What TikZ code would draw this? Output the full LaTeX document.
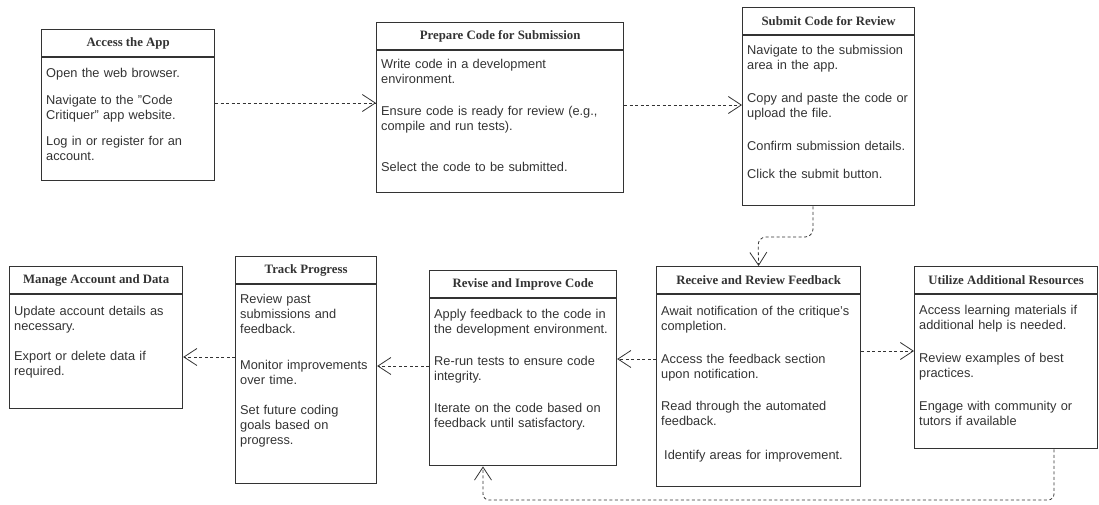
\documentclass[tikz,border=0pt]{standalone}
\usepackage{fontspec}
\setmainfont{Liberation Sans}
\newfontfamily\titlefont{Liberation Serif}
\usetikzlibrary{arrows.meta,positioning}
\definecolor{ink}{HTML}{333333}

\begin{document}
\begin{tikzpicture}[x=1pt,y=-1pt,
  head/.style={draw=ink, line width=1.2pt, anchor=north west, minimum height=27pt, inner sep=0pt,
    text=ink, font=\titlefont\bfseries\fontsize{12.8}{15}\selectfont},
  body/.style={draw=ink, line width=1.2pt, below=0pt of #1, inner sep=0pt},
  txt/.style={anchor=base west, inner sep=0pt, align=left, text=ink,
    font=\fontsize{12.8}{15}\selectfont},
  flow/.style={draw=ink, line width=0.8pt, dash pattern=on 3pt off 2.5pt,
    -{Straight Barb[length=13pt,width=17pt,line width=0.8pt]}}]
\useasboundingbox (0,0) rectangle (1099,504);

%ACCESS
\node[head, minimum width=173pt] (accesshead) at (41,29) {Access the App};
\node[body=accesshead, minimum width=173pt, minimum height=123pt] (accessbody) {};
\node[txt, text width=165pt] (accesstext) at ([shift={(5,20.5)}]accessbody.north west)
  {Open the web browser.\\[12pt]
   Navigate to the "Code\\ Critiquer" app website.\\[11pt]
   Log in or register for an\\ account.};

%PREPARE
\node[head, minimum width=247pt] (prephead) at (376,22) {Prepare Code for Submission};
\node[body=prephead, minimum width=247pt, minimum height=142pt] (prepbody) {};
\node[txt, text width=239pt] (preptext) at ([shift={(5,18.5)}]prepbody.north west)
  {Write code in a development\\ environment.\\[17pt]
   Ensure code is ready for review (e.g.,\\ compile and run tests).\\[26pt]
   Select the code to be submitted.};

%SUBMIT
\node[head, minimum width=172pt] (subhead) at (742,7) {Submit Code for Review};
\node[body=subhead, minimum width=172pt, minimum height=170pt] (subbody) {};
\node[txt, text width=164pt] (subtext) at ([shift={(5,19.5)}]subbody.north west)
  {Navigate to the submission\\ area in the app.\\[18pt]
   Copy and paste the code or\\ upload the file.\\[18pt]
   Confirm submission details.\\[13pt]
   Click the submit button.};

%MANAGE
\node[head, minimum width=173pt] (manhead) at (9,266) {Manage Account and Data};
\node[body=manhead, minimum width=173pt, minimum height=114pt] (manbody) {};
\node[txt, text width=165pt] (mantext) at ([shift={(5,21.5)}]manbody.north west)
  {Update account details as\\ necessary.\\[15pt]
   Export or delete data if\\ required.};

%TRACK
\node[head, minimum width=141pt] (trackhead) at (235,256) {Track Progress};
\node[body=trackhead, minimum width=141pt, minimum height=199pt] (trackbody) {};
\node[txt, text width=135pt] (tracktext) at ([shift={(5,19.5)}]trackbody.north west)
  {Review past\\ submissions and\\ feedback.\\[21pt]
   Monitor improvements\\ over time.\\[15pt]
   Set future coding\\ goals based on\\ progress.};

%REVISE
\node[head, minimum width=187pt] (revhead) at (429,270) {Revise and Improve Code};
\node[body=revhead, minimum width=187pt, minimum height=167pt] (revbody) {};
\node[txt, text width=181pt] (revtext) at ([shift={(5,20.5)}]revbody.north west)
  {Apply feedback to the code in\\ the development environment.\\[17pt]
   Re-run tests to ensure code\\ integrity.\\[17pt]
   Iterate on the code based on\\ feedback until satisfactory.};

%RECEIVE
\node[head, minimum width=204pt] (rechead) at (656,266) {Receive and Review Feedback};
\node[body=rechead, minimum width=204pt, minimum height=192pt] (recbody) {};
\node[txt, text width=198pt] (rectext) at ([shift={(5,21.5)}]recbody.north west)
  {Await notification of the critique's\\ completion.\\[18pt]
   Access the feedback section\\ upon notification.\\[17pt]
   Read through the automated\\ feedback.\\[19pt]
   \hspace*{3pt}Identify areas for improvement.};

%UTILIZE
\node[head, minimum width=183pt] (utilhead) at (914,266) {Utilize Additional Resources};
\node[body=utilhead, minimum width=183pt, minimum height=154pt] (utilbody) {};
\node[txt, text width=177pt] (utiltext) at ([shift={(5,20.5)}]utilbody.north west)
  {Access learning materials if\\ additional help is needed.\\[18pt]
   Review examples of best\\ practices.\\[18pt]
   Engage with community or\\ tutors if available};

%CONNECTORS
\draw[flow] (accessbody.east |- 0,103) -- (prepbody.west |- 0,103);
\draw[flow] (prepbody.east |- 0,105) -- (subbody.west |- 0,105);
\draw[flow, rounded corners=8pt] (subbody.south -| 813,0) -- (813,237) -- (758,237) -- (rechead.north);
\draw[flow] (recbody.east |- 0,351) -- (utilbody.west |- 0,351);
\draw[flow] (recbody.west |- 0,359) -- (revbody.east |- 0,359);
\draw[flow] (revbody.west |- 0,366) -- (trackbody.east |- 0,366);
\draw[flow] (trackbody.west |- 0,357) -- (manbody.east |- 0,357);
\draw[flow, rounded corners=6pt] (utilbody.south -| 1054,0) -- (1054,500) -- (483,500) -- (revbody.south -| 483,0);
\end{tikzpicture}
\end{document}
